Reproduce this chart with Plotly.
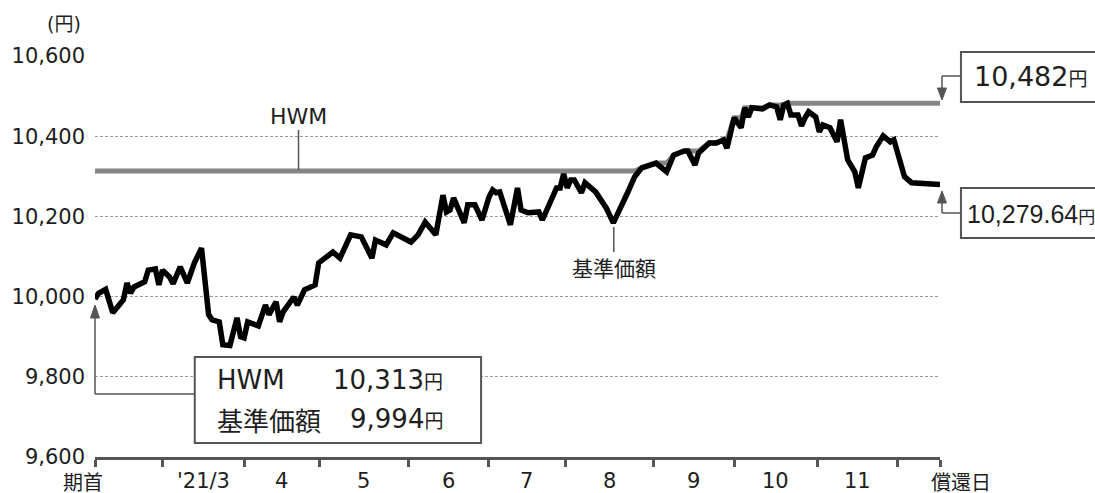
import numpy as np
import plotly.graph_objects as go

# ---------------- data ----------------
days = [0, 1, 3, 5, 8, 9, 10, 11, 14, 15, 17, 18, 19, 21, 22, 24, 26, 28, 30, 31,
        32, 33, 35, 36, 38, 40, 41, 42, 43, 46, 48, 49, 51, 52, 53, 56, 57, 59, 62, 63,
        67, 69, 72, 75, 77, 78, 79, 82, 84, 86, 89, 91, 93, 96, 98, 99, 100, 101, 104, 105,
        107, 109, 111, 112, 113, 114, 117, 119, 120, 122, 125, 126, 128, 129, 130, 131, 132, 133, 134, 135,
        137, 138, 140, 141, 144, 146, 150, 152, 154, 156, 158, 161, 163, 166, 167, 169, 170, 173, 175, 177,
        178, 180, 182, 183, 184, 185, 188, 190, 192, 193, 194, 195, 196, 198, 199, 200, 201, 203, 204, 205,
        207, 209, 210, 212, 214, 215, 217, 219, 220, 222, 224, 225, 228, 230, 235, 238]
nav = [9994, 10008, 10018, 9960, 9992, 10034, 10009, 10024, 10037, 10066, 10069, 10029, 10066, 10049, 10032, 10074, 10034, 10084, 10121, 10040,
       9955, 9942, 9937, 9880, 9878, 9947, 9900, 9897, 9937, 9927, 9979, 9955, 9987, 9937, 9962, 9999, 9979, 10017, 10029, 10084,
       10111, 10096, 10154, 10149, 10111, 10096, 10141, 10129, 10159, 10151, 10136, 10154, 10186, 10154, 10253, 10211, 10216, 10246, 10184, 10229,
       10229, 10191, 10249, 10266, 10259, 10261, 10179, 10271, 10216, 10209, 10211, 10191, 10229, 10249, 10271, 10271, 10306, 10271, 10291, 10291,
       10259, 10284, 10266, 10261, 10221, 10184, 10259, 10299, 10321, 10328, 10333, 10311, 10353, 10363, 10363, 10328, 10358, 10383, 10383, 10391,
       10370, 10446, 10421, 10471, 10448, 10471, 10468, 10478, 10473, 10441, 10478, 10482, 10453, 10453, 10426, 10446, 10461, 10448, 10411, 10428,
       10421, 10386, 10441, 10341, 10311, 10271, 10346, 10353, 10373, 10401, 10386, 10391, 10299, 10284, 10282, 10279.64]
HWM_START = 10313
HWM_END = 10482
NAV_START = 9994
NAV_END = 10279.64

# month boundaries (trading-day index) and labels
boundaries = [0, 19.1, 42.1, 63.2, 88.2, 110.7, 132.6, 157.3, 180.1, 203.4, 226.1, 238]
month_labels = ["'21/3", "4", "5", "6", "7", "8", "9", "10", "11"]
y_ticks = [9600, 9800, 10000, 10200, 10400, 10600]

hwm = np.maximum.accumulate(np.maximum(np.array(nav, dtype=float), HWM_START))

# ---------------- layout helpers ----------------
W, H = 1095, 493
PL, PT, PW, PH = 93, 56, 847, 401
LAT = "DejaVu Sans, Noto Sans CJK JP"
CJK = "Noto Sans CJK JP"
TXT = "#1e1e1e"
GRAY = "#555555"


def px(x):
    return (x - PL) / PW


def py(y):
    return (PT + PH - y) / PH


fig = go.Figure()
fig.add_trace(go.Scatter(x=days, y=hwm, mode="lines",
                         line=dict(color="#868686", width=5), hoverinfo="skip"))
fig.add_trace(go.Scatter(x=days, y=nav, mode="lines",
                         line=dict(color="#000000", width=5.5), hoverinfo="skip"))

shapes = []


def seg(x0, y0, x1, y1, w=1.5, c=GRAY):
    shapes.append(dict(type="line", xref="paper", yref="paper",
                       x0=px(x0), y0=py(y0), x1=px(x1), y1=py(y1),
                       line=dict(color=c, width=w), layer="above"))


def tri(xt, yt, yb, half=4.5):
    path = "M {} {} L {} {} L {} {} Z".format(px(xt), py(yt), px(xt - half), py(yb), px(xt + half), py(yb))
    shapes.append(dict(type="path", xref="paper", yref="paper", path=path,
                       fillcolor=GRAY, line=dict(color=GRAY, width=1), layer="above"))


def box(x0, y0, x1, y1):
    shapes.append(dict(type="rect", xref="paper", yref="paper",
                       x0=px(x0), y0=py(y1), x1=px(x1), y1=py(y0),
                       line=dict(color=GRAY, width=2), fillcolor="white", layer="above"))


# bottom-left info box + leader from start point
box(193, 357, 480, 443)
seg(93, 316, 93, 394)
seg(93, 394, 193, 394)
tri(93, 305, 318)
# HWM / 基準価額 leaders
seg(297, 130, 297, 170)
seg(613, 227, 613, 252)
# right boxes
box(961, 52, 1110, 102)
seg(961, 76, 942, 76)
seg(942, 76, 942, 89)
tri(942, 100, 88)
box(961, 188, 1110, 238)
seg(961, 213, 942, 213)
seg(942, 213, 942, 202)
tri(942, 191, 203)

ann = []


def text(x, y, s, size, xanchor="center", family=LAT):
    ann.append(dict(x=px(x), y=py(y), xref="paper", yref="paper", text=s, showarrow=False,
                    xanchor=xanchor, yanchor="middle", font=dict(family=family, size=size, color=TXT)))


YEN = "<span style='font-size:19px'>円</span>"
text(62, 24, "(円)", 19)
text(297, 117, "HWM", 22)
text(613, 267, "基準価額", 21, family=CJK)
text(213, 380, "HWM", 26, "left")
text(444, 380, "{:,}".format(HWM_START) + YEN, 26, "right")
text(213, 419, "基準価額", 26, "left", family=CJK)
text(444, 419, "{:,}".format(NAV_START) + YEN, 26, "right")
text(972, 77, "{:,}".format(HWM_END) + YEN, 27, "left")
text(965, 214, "{:,.2f}".format(NAV_END) + "<span style='font-size:17px'>円</span>", 25, "left",
     family="Liberation Sans, Noto Sans CJK JP")

# x labels
text(81, 481, "期首", 20, family=CJK)
text(961, 481, "償還日", 20, family=CJK)
for i, lab in enumerate(month_labels):
    mid = (boundaries[i + 1] + boundaries[i + 2]) / 2
    ann.append(dict(x=mid, y=py(481), xref="x", yref="paper", text=lab, showarrow=False,
                    xanchor="center", yanchor="middle", font=dict(family=LAT, size=21, color=TXT)))

fig.update_layout(
    width=W, height=H,
    margin=dict(l=PL, r=W - PL - PW, t=PT, b=H - PT - PH, pad=0),
    paper_bgcolor="white", plot_bgcolor="white",
    showlegend=False,
    shapes=shapes, annotations=ann,
    xaxis=dict(range=[0, 238], showgrid=False, zeroline=False, showline=True,
               linecolor=GRAY, linewidth=3, ticks="outside", tickvals=boundaries,
               ticklen=7, tickwidth=3, tickcolor=GRAY, showticklabels=False, fixedrange=True),
    yaxis=dict(range=[9600, 10600], tickvals=y_ticks, ticktext=["{:,}".format(v) for v in y_ticks],
               showgrid=True, gridcolor="#9a9a9a", gridwidth=1, griddash="3px,2px",
               zeroline=False, showline=False, ticks="", ticklabelstandoff=9,
               tickfont=dict(family=LAT, size=21, color=TXT), fixedrange=True),
)

fig.write_html("out.html")
